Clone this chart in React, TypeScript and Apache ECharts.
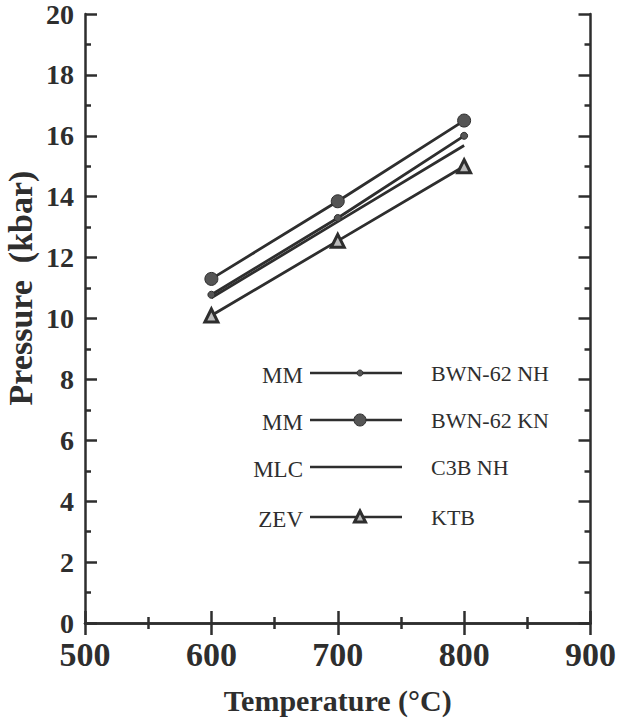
import React, { useEffect, useRef } from "react";
import * as echarts from "echarts";

const temperatures = [600, 700, 800];
const bwn62NH = [10.78, 13.3, 16.0];
const bwn62KN = [11.3, 13.85, 16.5];
const c3bNH = [10.68, 13.18, 15.68];
const ktb = [10.1, 12.55, 15.0];

const xTicks = [500, 600, 700, 800, 900];
const yTicks = [0, 2, 4, 6, 8, 10, 12, 14, 16, 18, 20];

const legendLeft = ["MM", "MM", "MLC", "ZEV"];
const legendRight = ["BWN-62 NH", "BWN-62 KN", "C3B NH", "KTB"];

const INK = "#2e2e2e";
const SERIF = "'Liberation Serif', 'Times New Roman', serif";

function pairs(ys: number[]) {
  return temperatures.map((t, i) => [t, ys[i]]);
}

export default function App() {
  const ref = useRef<HTMLDivElement>(null);

  useEffect(() => {
    if (!ref.current) return;
    const chart = echarts.init(ref.current, null, { renderer: "svg" });

    const axisCommon = {
      axisLine: { show: true, lineStyle: { color: INK, width: 2.5 } },
      axisTick: { show: true, inside: true, length: 12, lineStyle: { color: INK, width: 2.5 } },
      minorTick: { show: true, splitNumber: 2, length: 6, lineStyle: { color: INK, width: 2.5 } },
      splitLine: { show: false },
    };

    const legendRowsY = [373, 420, 467, 517];
    const graphics: any[] = [];
    legendRowsY.forEach((y, i) => {
      graphics.push({
        type: "text",
        x: 303,
        y: y + 2,
        style: {
          text: legendLeft[i],
          font: `23px ${SERIF}`,
          fill: INK,
          textAlign: "right",
          textVerticalAlign: "middle",
        },
      });
      graphics.push({
        type: "line",
        shape: { x1: 310, y1: y, x2: 402, y2: y },
        style: { stroke: INK, lineWidth: 2.5 },
      });
      graphics.push({
        type: "text",
        x: 431,
        y: y,
        style: {
          text: legendRight[i],
          font: `22px ${SERIF}`,
          fill: INK,
          textAlign: "left",
          textVerticalAlign: "middle",
        },
      });
    });
    graphics.push({ type: "circle", shape: { cx: 360, cy: 373, r: 3 }, style: { fill: "#555", stroke: INK, lineWidth: 1 } });
    graphics.push({ type: "circle", shape: { cx: 360, cy: 420, r: 6 }, style: { fill: "#555", stroke: INK, lineWidth: 1 } });
    graphics.push({
      type: "polygon",
      shape: { points: [[360, 511], [354.5, 522], [365.5, 522]] },
      style: { fill: "#bbb", stroke: INK, lineWidth: 3 },
    });
    graphics.push({
      type: "text",
      x: 20,
      y: 288,
      rotation: Math.PI / 2,
      style: {
        text: "Pressure  (kbar)",
        font: `bold 34px ${SERIF}`,
        fill: INK,
        textAlign: "center",
        textVerticalAlign: "middle",
      },
    });

    const lineSeries = (name: string, ys: number[], symbol: string, size: number, extra: any = {}) => ({
      name,
      type: "line",
      data: pairs(ys),
      xAxisIndex: 0,
      yAxisIndex: 0,
      symbol,
      symbolSize: size,
      showSymbol: symbol !== "none",
      lineStyle: { color: INK, width: 2.8 },
      itemStyle: { color: "#555", borderColor: INK, borderWidth: 1, ...extra },
      z: 3,
    });

    chart.setOption({
      animation: false,
      backgroundColor: "#fff",
      grid: { left: 85, right: 27, top: 13, bottom: 93, containLabel: false },
      graphic: graphics,
      xAxis: [
        {
          type: "value",
          min: 500,
          max: 900,
          interval: 100,
          position: "bottom",
          ...axisCommon,
          axisLabel: {
            show: true,
            margin: 14,
            fontFamily: SERIF,
            fontWeight: "bold",
            fontSize: 34,
            color: INK,
            formatter: (v: number) => (xTicks.includes(v) ? String(v) : ""),
          },
          name: "Temperature (°C)",
          nameLocation: "middle",
          nameGap: 62,
          nameTextStyle: { fontFamily: SERIF, fontWeight: "bold", fontSize: 30, color: INK },
        },
        {
          type: "value",
          min: 500,
          max: 900,
          interval: 100,
          position: "top",
          ...axisCommon,
          axisLabel: { show: false },
        },
      ],
      yAxis: [
        {
          type: "value",
          min: 0,
          max: 20,
          interval: 2,
          position: "left",
          ...axisCommon,
          axisLabel: {
            show: true,
            margin: 11,
            fontFamily: SERIF,
            fontWeight: "bold",
            fontSize: 28,
            color: INK,
            formatter: (v: number) => (yTicks.includes(v) ? String(v) : ""),
          },
        },
        {
          type: "value",
          min: 0,
          max: 20,
          interval: 2,
          position: "right",
          ...axisCommon,
          axisLabel: { show: false },
        },
      ],
      series: [
        lineSeries("BWN-62 NH", bwn62NH, "circle", 7),
        lineSeries("BWN-62 KN", bwn62KN, "circle", 13),
        lineSeries("C3B NH", c3bNH, "none", 0),
        lineSeries("KTB", ktb, "triangle", 13, { color: "#bbb", borderColor: INK, borderWidth: 3 }),
      ],
    });

    return () => chart.dispose();
  }, []);

  return (
    <div
      ref={ref}
      style={{ position: "fixed", left: 0, top: 0, width: 619, height: 720, background: "#fff" }}
    />
  );
}
